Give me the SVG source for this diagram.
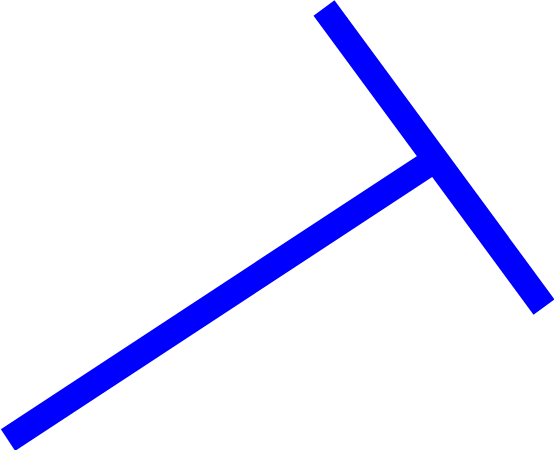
<svg xmlns="http://www.w3.org/2000/svg" width="554" height="450" viewBox="0 0 554 450">
<style>.bar{stroke:#0000ff;stroke-width:26;fill:none;stroke-linecap:butt}</style>
<rect width="554" height="450" fill="#fff"/>
<g id="connectors">
<line class="bar" x1="8" y1="440" x2="433" y2="161"/>
<line class="bar" x1="324" y1="8" x2="544" y2="307"/>
</g>
</svg>
